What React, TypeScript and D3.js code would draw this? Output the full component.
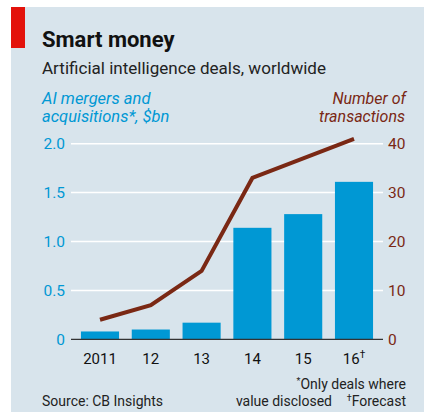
import React, { useEffect, useRef } from 'react';
import * as d3 from 'd3';

const years = ['2011', '12', '13', '14', '15', '16'];
const dealValues = [0.08, 0.1, 0.17, 1.14, 1.28, 1.61]; // $bn
const transactions = [4, 7, 14, 33, 37, 41];
const leftTicks = [0, 0.5, 1.0, 1.5, 2.0];
const rightTicks = [0, 10, 20, 30, 40];

const BLUE = '#0098d4';
const BROWN = '#7a2814';
const FONT = 'Roboto, sans-serif';

const App = () => {
    const svgRef = useRef<SVGSVGElement>(null);
    const width = 424;
    const height = 412;

    useEffect(() => {
        document.body.style.margin = '0';
        const svg = d3.select(svgRef.current);
        svg.selectAll('*').remove();

        const plot = { left: 71, right: 383, top: 143.7, bottom: 339.3 };

        // background panel + red tag
        svg.append('rect')
            .attr('x', 11).attr('y', 7)
            .attr('width', width - 11).attr('height', height - 7)
            .attr('fill', '#d8e4ec');
        svg.append('rect')
            .attr('x', 11).attr('y', 7)
            .attr('width', 14).attr('height', 41)
            .attr('fill', '#e3120b');

        svg.append('text')
            .attr('x', 42).attr('y', 47)
            .attr('font-family', FONT).attr('font-weight', 700)
            .attr('font-size', 22).attr('fill', '#111')
            .text('Smart money');
        svg.append('text')
            .attr('x', 42).attr('y', 74)
            .attr('font-family', FONT).attr('font-size', 16).attr('fill', '#222')
            .attr('textLength', 284).attr('lengthAdjust', 'spacingAndGlyphs')
            .text('Artificial intelligence deals, worldwide');

        // axis titles
        const leftTitle = svg.append('text')
            .attr('font-family', FONT).attr('font-style', 'italic')
            .attr('font-size', 16.5).attr('fill', BLUE);
        leftTitle.append('tspan').attr('x', 42).attr('y', 104).text('AI mergers and');
        leftTitle.append('tspan').attr('x', 42).attr('y', 121.5).text('acquisitions*, $bn');

        const rightTitle = svg.append('text')
            .attr('font-family', FONT).attr('font-style', 'italic')
            .attr('font-size', 16).attr('fill', BROWN).attr('text-anchor', 'end');
        rightTitle.append('tspan').attr('x', 406).attr('y', 104).text('Number of');
        rightTitle.append('tspan').attr('x', 405).attr('y', 121.5).text('transactions');

        const x = d3.scaleBand()
            .domain(years)
            .range([74.6, 379.4])
            .paddingInner(0.25)
            .paddingOuter(0.125);

        const yLeft = d3.scaleLinear().domain([0, 2]).range([plot.bottom, plot.top]);
        const yRight = d3.scaleLinear().domain([0, 40]).range([plot.bottom, plot.top]);

        // gridlines
        svg.append('g')
            .selectAll('line')
            .data(leftTicks.filter(t => t > 0))
            .enter()
            .append('line')
            .attr('x1', plot.left).attr('x2', plot.right)
            .attr('y1', d => yLeft(d)).attr('y2', d => yLeft(d))
            .attr('stroke', '#fff').attr('stroke-width', 1.5);

        // left tick labels
        svg.append('g')
            .selectAll('text')
            .data(leftTicks)
            .enter()
            .append('text')
            .attr('x', 65).attr('y', d => yLeft(d) + 5.5)
            .attr('text-anchor', 'end')
            .attr('font-family', FONT).attr('font-size', 15.5).attr('fill', BLUE)
            .text(d => (d === 0 ? '0' : d.toFixed(1)));

        // right tick labels
        svg.append('g')
            .selectAll('text')
            .data(rightTicks)
            .enter()
            .append('text')
            .attr('x', 388).attr('y', d => yRight(d) + 5.5)
            .attr('font-family', FONT).attr('font-size', 15.5).attr('fill', BROWN)
            .text(d => String(d));

        // bars
        svg.append('g')
            .selectAll('rect')
            .data(dealValues)
            .enter()
            .append('rect')
            .attr('x', (d, i) => x(years[i]) as number)
            .attr('y', d => yLeft(d))
            .attr('width', x.bandwidth())
            .attr('height', d => plot.bottom - yLeft(d))
            .attr('fill', BLUE);

        // baseline
        svg.append('line')
            .attr('x1', plot.left).attr('x2', plot.right)
            .attr('y1', plot.bottom).attr('y2', plot.bottom)
            .attr('stroke', '#333').attr('stroke-width', 1.2);

        // transactions line
        const line = d3.line<number>()
            .x((d, i) => (x(years[i]) as number) + x.bandwidth() / 2)
            .y(d => yRight(d));

        svg.append('path')
            .datum(transactions)
            .attr('fill', 'none')
            .attr('stroke', BROWN)
            .attr('stroke-width', 4)
            .attr('d', line);

        // x labels
        const xl = svg.append('g')
            .selectAll('text')
            .data(years)
            .enter()
            .append('text')
            .attr('x', d => (x(d) as number) + x.bandwidth() / 2)
            .attr('y', 364)
            .attr('text-anchor', 'middle')
            .attr('font-family', FONT).attr('font-size', 15).attr('fill', '#111');
        xl.append('tspan').text(d => d);
        xl.filter(d => d === '16').append('tspan')
            .attr('font-size', 10).attr('dy', -6).text('†');

        // footnotes
        const foot = (t: string, xx: number, yy: number, anchor: string) =>
            svg.append('text')
                .attr('x', xx).attr('y', yy)
                .attr('text-anchor', anchor)
                .attr('font-family', FONT).attr('font-size', 14).attr('fill', '#222')
                .text(t);

        const only = svg.append('text')
            .attr('x', 406).attr('y', 389).attr('text-anchor', 'end')
            .attr('font-family', FONT).attr('font-size', 14).attr('fill', '#222');
        only.append('tspan').attr('font-size', 9).attr('dy', -5).text('*');
        only.append('tspan').attr('dy', 5).text('Only deals where');

        foot('value disclosed', 332, 406, 'end');
        const fc = svg.append('text')
            .attr('x', 406).attr('y', 406).attr('text-anchor', 'end')
            .attr('font-family', FONT).attr('font-size', 14).attr('fill', '#222');
        fc.append('tspan').attr('font-size', 9).attr('dy', -5).text('†');
        fc.append('tspan').attr('dy', 5).text('Forecast');

        foot('Source: CB Insights', 42, 406, 'start');
    }, []);

    return <svg ref={svgRef} width={width} height={height} style={{ display: 'block' }} />;
};

export default App;
